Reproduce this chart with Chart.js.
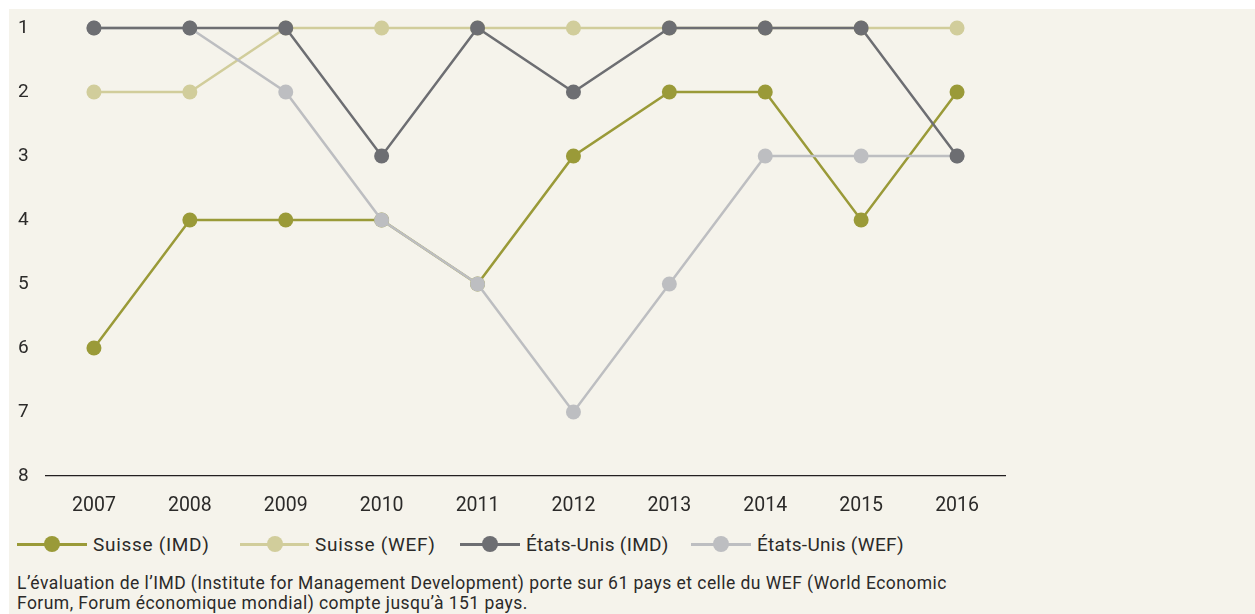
<!DOCTYPE html>
<html><head><meta charset="utf-8">
<script src="https://cdn.jsdelivr.net/npm/chart.js@4/dist/chart.umd.min.js"></script>
<style>
html,body{margin:0;padding:0;background:#fff;width:1255px;height:614px;overflow:hidden;font-family:Roboto,sans-serif;color:#2b2a29}
#bg{position:absolute;left:9px;top:9px;right:0;bottom:0;background:#f5f3eb}
#wrap{position:absolute;left:0;top:0;width:1255px;height:520px}
#legend{position:absolute;left:0;top:531px;width:1255px;height:26px;font-size:19px}
.item{position:absolute;top:0;height:26px;display:flex;align-items:center;white-space:nowrap}
.sw{position:relative;height:16px;margin-right:6px}
.sw .ln{position:absolute;left:0;right:0;top:6.5px;height:3px}
.sw .pt{position:absolute;top:0;width:16px;height:16px;border-radius:50%;transform:translateX(-50%)}
#note{position:absolute;left:17px;top:573px;font-size:17.5px;letter-spacing:0.45px;line-height:20px;width:1100px;white-space:nowrap}
</style></head>
<body>
<div id="bg"></div>
<div id="wrap"><canvas id="c" width="1255" height="520"></canvas></div>
<div id="legend"></div>
<div id="note">L’évaluation de l’IMD (Institute for Management Development) porte sur 61 pays et celle du WEF (World Economic<br>Forum, Forum économique mondial) compte jusqu’à 151 pays.</div>
<script>
const years = ['2007','2008','2009','2010','2011','2012','2013','2014','2015','2016'];
const suisseIMD = [6,4,4,4,5,3,2,2,4,2];
const suisseWEF = [2,2,1,1,1,1,1,1,1,1];
const usIMD = [1,1,1,3,1,2,1,1,1,3];
const usWEF = [1,1,2,4,5,7,5,3,3,3];
const yTicks = [1,2,3,4,5,6,7,8];
const names = ['Suisse (IMD)','Suisse (WEF)','États-Unis (IMD)','États-Unis (WEF)'];
const colors = ['#9a9a38','#d1cd9b','#6d6e72','#bdbec1'];
const series = [suisseIMD, suisseWEF, usIMD, usWEF];
const orders = [3,2,0,1];
const legendX = [17,240,460,691];
const legendLineW = [70,69,60,60];
const legendSpacing = [0.7,0.7,0.3,0.3];

const datasets = series.map((d,i)=>({
  label: names[i], data: d, borderColor: colors[i], backgroundColor: colors[i],
  pointBackgroundColor: colors[i], pointBorderWidth: 0, pointRadius: 7.5, pointHoverRadius: 7.5,
  borderWidth: 2.5, tension: 0, clip: false, order: orders[i]
}));

new Chart(document.getElementById('c'), {
  type: 'line',
  data: { labels: years, datasets },
  options: {
    responsive: false, animation: false,
    layout: { padding: { left: 18, right: 250, top: 28, bottom: 0 } },
    plugins: { legend: { display: false }, tooltip: { enabled: false } },
    scales: {
      x: {
        offset: true,
        grid: { display: false, drawTicks: false },
        border: { display: true, color: '#231f20', width: 1.2 },
        ticks: { font: { family: 'Roboto', size: 19.5 }, color: '#2b2a29', padding: 18, maxRotation: 0 },
        afterFit: s => { s.height = 44; }
      },
      y: {
        min: 1, max: 8, reverse: true,
        grid: { display: false, drawTicks: false },
        border: { display: false },
        afterBuildTicks: s => { s.ticks = yTicks.map(v => ({ value: v })); },
        ticks: { font: { family: 'Roboto', size: 19 }, color: '#2b2a29', crossAlign: 'far', padding: 0 },
        afterFit: s => { s.width = 28; }
      }
    }
  }
});

const lg = document.getElementById('legend');
names.forEach((n,i)=>{
  const it = document.createElement('div'); it.className='item';
  it.style.left = legendX[i] + 'px';
  it.style.letterSpacing = legendSpacing[i] + 'px';
  const w = legendLineW[i];
  it.innerHTML = `<div class="sw" style="width:${w}px"><div class="ln" style="background:${colors[i]}"></div><div class="pt" style="left:${w/2}px;background:${colors[i]}"></div></div><span>${n}</span>`;
  lg.appendChild(it);
});
</script>
</body></html>
